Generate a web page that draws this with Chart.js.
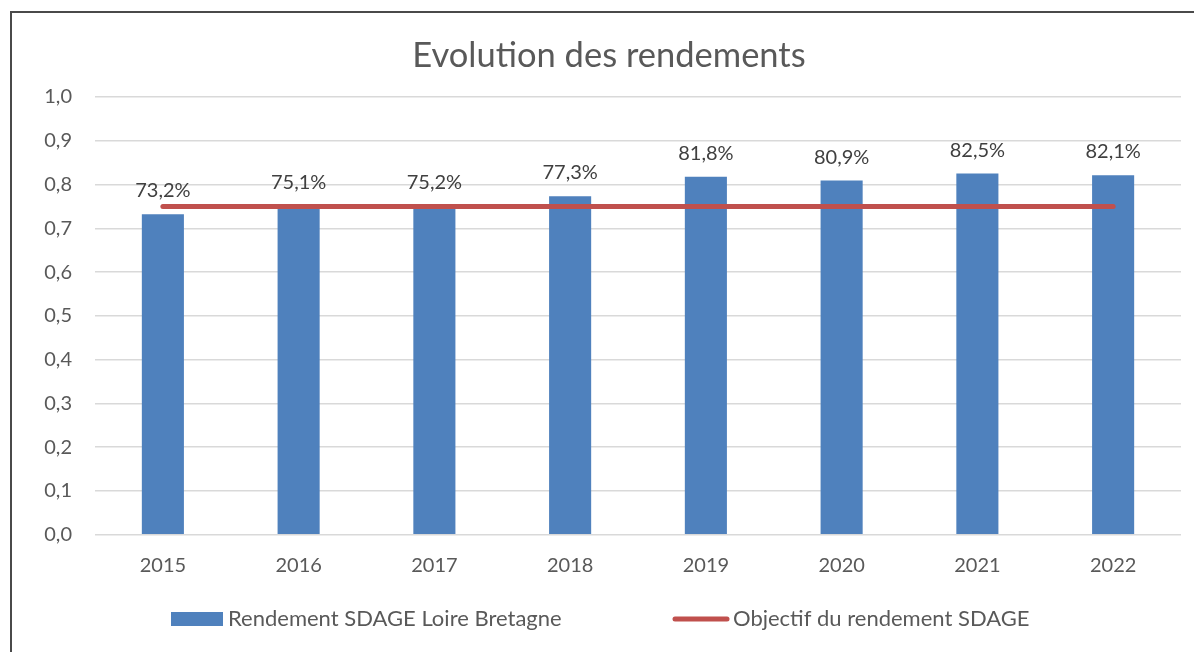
<!DOCTYPE html>
<html>
<head>
<meta charset="utf-8">
<script src="https://cdn.jsdelivr.net/npm/chart.js@4.4.1/dist/chart.umd.min.js"></script>
<style>
    html, body { margin: 0; padding: 0; background: #fff; overflow: hidden; }
    #frame {
        position: absolute; left: 10px; top: 11px;
        width: 1220px; height: 700px;
        border-left: 2px solid #4a4a4a; border-top: 2px solid #4a4a4a;
    }
    canvas { display: block; }
</style>
</head>
<body>
<div id="frame"><canvas id="rendementChart" width="1220" height="640"></canvas></div>
<script>
const years = ["2015", "2016", "2017", "2018", "2019", "2020", "2021", "2022"];
const rendement = [0.732, 0.751, 0.752, 0.773, 0.818, 0.809, 0.825, 0.821];
const objectif = [0.75, 0.75, 0.75, 0.75, 0.75, 0.75, 0.75, 0.75];

const FONT = "Lato, 'Open Sans', sans-serif";
const BLUE = "#4F81BD";
const RED = "#C0504D";
const GREY_TEXT = "#595959";

function fmt(v, digits) {
    return v.toFixed(digits).replace(".", ",");
}

// value labels above each bar, e.g. "73,2%"
const barLabels = {
    id: "barLabels",
    afterDatasetsDraw(chart) {
        const ctx = chart.ctx;
        const meta = chart.getDatasetMeta(0);
        ctx.save();
        ctx.font = "20px " + FONT;
        ctx.fillStyle = "#404040";
        ctx.textAlign = "center";
        ctx.textBaseline = "alphabetic";
        meta.data.forEach((bar, i) => {
            ctx.fillText(fmt(rendement[i] * 100, 1) + "%", bar.x, bar.y - 17);
        });
        ctx.restore();
    }
};

// legend drawn under the axis
const bottomLegend = {
    id: "bottomLegend",
    afterDraw(chart) {
        const ctx = chart.ctx;
        const y = 606;
        ctx.save();
        ctx.font = "22px " + FONT;
        ctx.textBaseline = "middle";

        ctx.fillStyle = BLUE;
        ctx.fillRect(159, y - 7, 52, 14);
        ctx.fillStyle = GREY_TEXT;
        ctx.fillText(chart.data.datasets[0].label, 216, y);

        ctx.strokeStyle = RED;
        ctx.lineWidth = 5;
        ctx.lineCap = "round";
        ctx.beginPath();
        ctx.moveTo(663, y);
        ctx.lineTo(715, y);
        ctx.stroke();
        ctx.fillText(chart.data.datasets[1].label, 721, y);
        ctx.restore();
    }
};

const ctx = document.getElementById("rendementChart").getContext("2d");

new Chart(ctx, {
    data: {
        labels: years,
        datasets: [
            {
                type: "bar",
                label: "Rendement SDAGE Loire Bretagne",
                data: rendement,
                backgroundColor: BLUE,
                barPercentage: 0.31,
                categoryPercentage: 1.0,
                order: 1
            },
            {
                type: "line",
                label: "Objectif du rendement SDAGE",
                data: objectif,
                borderColor: RED,
                borderWidth: 5,
                borderCapStyle: "round",
                pointRadius: 0,
                fill: false,
                order: 0
            }
        ]
    },
    options: {
        responsive: false,
        animation: false,
        layout: { padding: { left: 25, right: 51, top: 0, bottom: 58.3 } },
        plugins: {
            legend: { display: false },
            tooltip: { enabled: false },
            title: {
                display: true,
                text: "Evolution des rendements",
                color: GREY_TEXT,
                font: { family: FONT, size: 34.5, weight: "normal" },
                padding: { top: 22, bottom: 20.6 }
            }
        },
        scales: {
            x: {
                grid: { display: false },
                border: { display: false },
                ticks: {
                    color: GREY_TEXT,
                    font: { family: FONT, size: 20 },
                    padding: 11
                },
                afterFit(scale) { scale.height = 60; }
            },
            y: {
                min: 0,
                max: 1,
                grid: { color: "#d9d9d9", lineWidth: 1.5, drawTicks: false },
                border: { display: false },
                ticks: {
                    stepSize: 0.1,
                    color: GREY_TEXT,
                    font: { family: FONT, size: 20 },
                    padding: 23,
                    callback: v => fmt(v, 1)
                },
                afterFit(scale) { scale.width = 58; }
            }
        }
    },
    plugins: [barLabels, bottomLegend]
});
</script>
</body>
</html>
